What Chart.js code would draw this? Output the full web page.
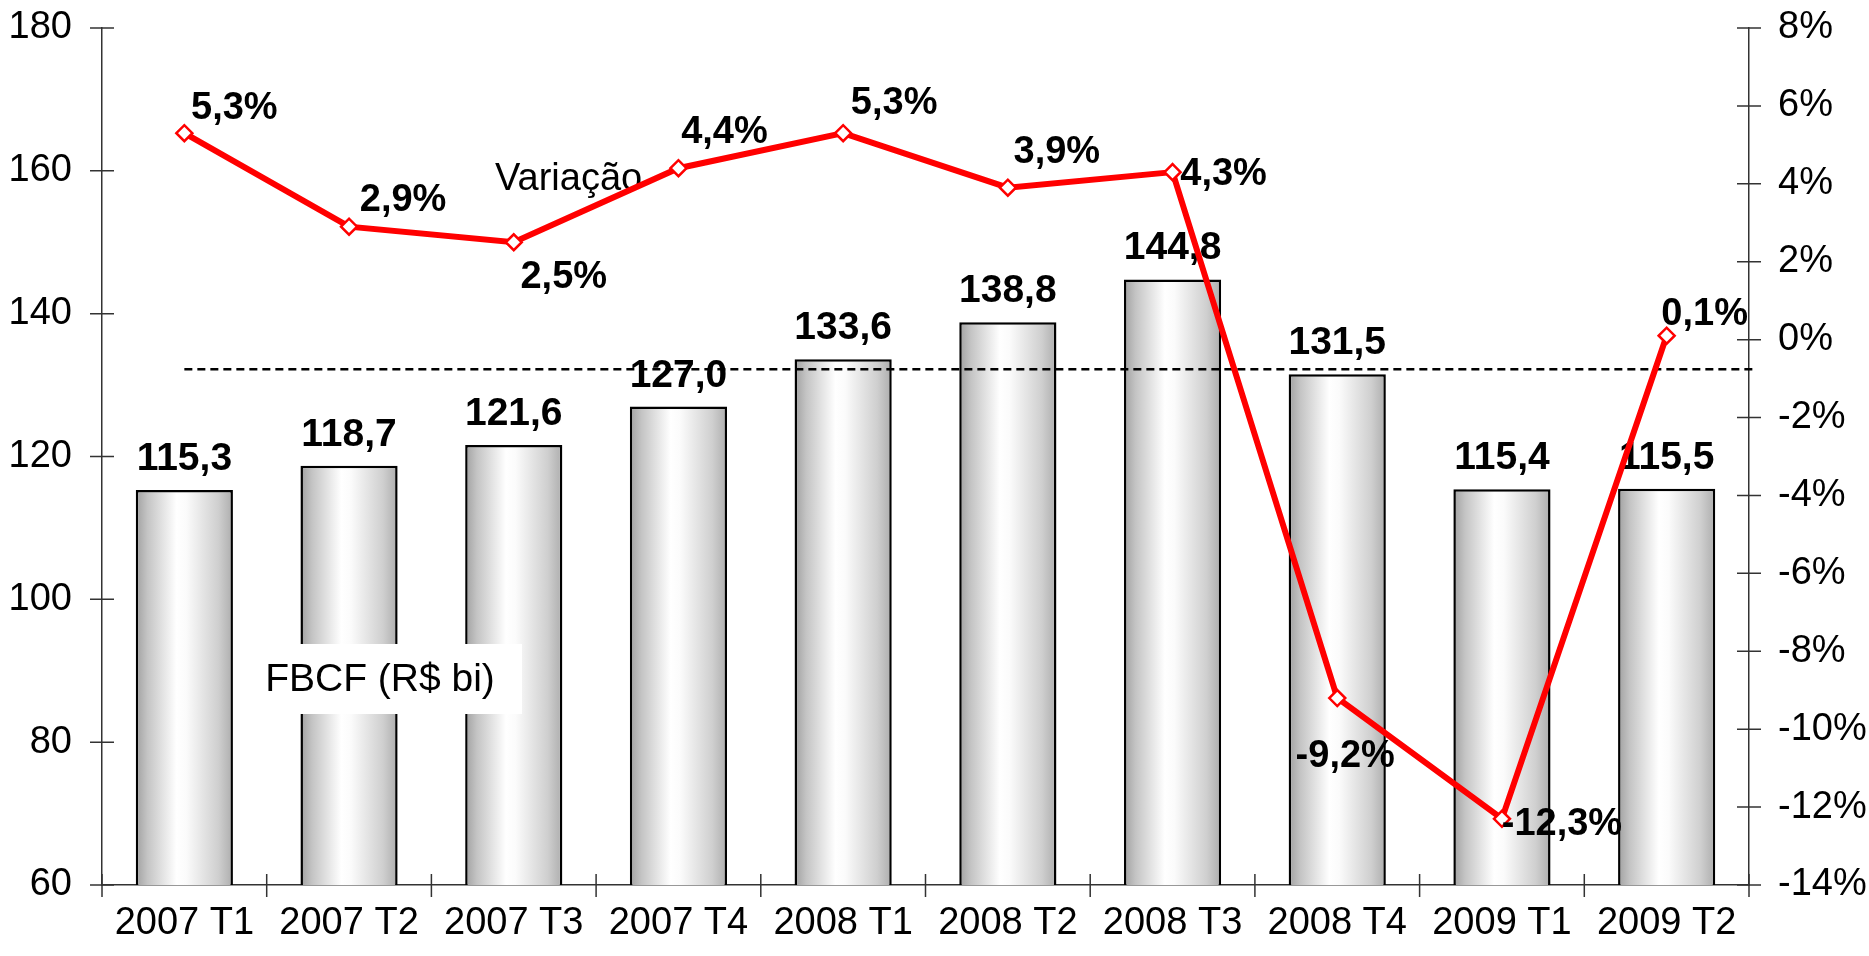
<!DOCTYPE html>
<html>
<head>
<meta charset="utf-8">
<script src="https://cdn.jsdelivr.net/npm/chart.js@4.4.1/dist/chart.umd.min.js"></script>
<style>
  html, body { margin: 0; padding: 0; background: #fff; }
  #wrap { width: 1869px; height: 956px; }
</style>
</head>
<body>
<div id="wrap"><canvas id="fbcfChart" width="1869" height="956"></canvas></div>
<script>
// Dados
const quarters = ['2007 T1', '2007 T2', '2007 T3', '2007 T4', '2008 T1', '2008 T2', '2008 T3', '2008 T4', '2009 T1', '2009 T2'];
const fbcf = [115.3, 118.7, 121.6, 127.0, 133.6, 138.8, 144.8, 131.5, 115.4, 115.5];
const variacao = [5.3, 2.9, 2.5, 4.4, 5.3, 3.9, 4.3, -9.2, -12.3, 0.1];
const linhaRef = 132.2; // linha tracejada (eixo esquerdo)
const leftTicks = { min: 60, max: 180, step: 20 };
const rightTicks = { min: -14, max: 8, step: 2 };

// Deslocamentos dos rótulos da variação (px)
const varLabelOffsets = [[50, -25], [54, -26], [50, 35], [46, -36], [51, -30], [49, -35], [51, 2], [8, 58], [60, 6], [38, -21]];

const BAR_PCT = 0.59;
const FONT = '"Liberation Sans", Arial, sans-serif';

function fmt(v, d) {
    return v.toFixed(d).replace('.', ',');
}

function barFill(context) {
    const chart = context.chart;
    const xs = chart.scales.x;
    if (!xs || !chart.chartArea || context.dataIndex === undefined) return '#cccccc';
    const cx = xs.getPixelForValue(context.dataIndex);
    const w = xs.width / quarters.length * BAR_PCT;
    const g = chart.ctx.createLinearGradient(cx - w / 2, 0, cx + w / 2, 0);
    g.addColorStop(0, '#a0a0a0');
    g.addColorStop(0.12, '#c4c4c4');
    g.addColorStop(0.42, '#ffffff');
    g.addColorStop(0.52, '#fbfbfb');
    g.addColorStop(0.85, '#cfcfcf');
    g.addColorStop(1, '#adadad');
    return g;
}

// Plugin: marcas, rótulos e anotações
const extras = {
    id: 'extras',
    beforeDatasetsDraw(chart) {
        const ctx = chart.ctx;
        ctx.save();
        ctx.font = '38px ' + FONT;
        ctx.fillStyle = '#000';
        ctx.textAlign = 'left';
        ctx.textBaseline = 'alphabetic';
        ctx.fillText('Variação', 495, 190);
        ctx.restore();
    },
    afterDatasetDraw(chart, args) {
        if (args.index !== 0) return;
        const ctx = chart.ctx;
        const xs = chart.scales.x;
        const ys = chart.scales.y;
        const area = chart.chartArea;
        ctx.save();
        // rótulos das barras
        ctx.font = 'bold 39px ' + FONT;
        ctx.fillStyle = '#000';
        ctx.textAlign = 'center';
        ctx.textBaseline = 'alphabetic';
        const meta = chart.getDatasetMeta(0);
        meta.data.forEach((bar, i) => {
            ctx.fillText(fmt(fbcf[i], 1), bar.x, bar.y - 20);
        });
        // linha tracejada
        const y = ys.getPixelForValue(linhaRef);
        ctx.strokeStyle = '#000';
        ctx.lineWidth = 2.5;
        ctx.setLineDash([8, 5]);
        ctx.beginPath();
        ctx.moveTo(xs.getPixelForValue(0), y);
        ctx.lineTo(area.right + 8, y);
        ctx.stroke();
        ctx.setLineDash([]);
        // caixa FBCF
        ctx.fillStyle = '#fff';
        ctx.fillRect(256, 644, 266, 70);
        ctx.fillStyle = '#000';
        ctx.font = '39px ' + FONT;
        ctx.textBaseline = 'middle';
        ctx.fillText('FBCF (R$ bi)', 380, 680);
        ctx.restore();
    },
    afterDatasetsDraw(chart) {
        const ctx = chart.ctx;
        const area = chart.chartArea;
        const xs = chart.scales.x;
        ctx.save();
        ctx.strokeStyle = '#333';
        ctx.lineWidth = 1.5;
        ctx.beginPath();
        ['y', 'y2'].forEach(id => {
            const s = chart.scales[id];
            const ax = id === 'y' ? area.left : area.right;
            s.ticks.forEach((t, i) => {
                const py = s.getPixelForTick(i);
                ctx.moveTo(ax - 12, py);
                ctx.lineTo(ax + 12, py);
            });
        });
        const cw = xs.width / quarters.length;
        for (let i = 0; i <= quarters.length; i++) {
            const px = area.left + cw * i;
            ctx.moveTo(px, area.bottom - 11);
            ctx.lineTo(px, area.bottom + 12);
        }
        ctx.stroke();
        // rótulos da variação
        ctx.font = 'bold 38px ' + FONT;
        ctx.fillStyle = '#000';
        ctx.textAlign = 'center';
        ctx.textBaseline = 'middle';
        const meta = chart.getDatasetMeta(1);
        meta.data.forEach((pt, i) => {
            const off = varLabelOffsets[i];
            ctx.fillText(fmt(variacao[i], 1) + '%', pt.x + off[0], pt.y + off[1]);
        });
        ctx.restore();
    }
};

function fitY(width) {
    return function (s) {
        s.width = width;
        s.paddingTop = 0;
        s.paddingBottom = 0;
    };
}

const chart = new Chart(document.getElementById('fbcfChart').getContext('2d'), {
    data: {
        labels: quarters,
        datasets: [{
            type: 'bar',
            label: 'FBCF (R$ bi)',
            data: fbcf,
            yAxisID: 'y',
            backgroundColor: barFill,
            borderColor: '#000',
            borderWidth: 2.5,
            borderSkipped: false,
            categoryPercentage: 1,
            barPercentage: BAR_PCT,
            order: 1
        }, {
            type: 'line',
            label: 'Variação',
            data: variacao,
            yAxisID: 'y2',
            borderColor: '#ff0000',
            borderWidth: 6,
            tension: 0,
            pointStyle: 'rectRot',
            pointRadius: 8,
            pointBackgroundColor: '#fff',
            pointBorderColor: '#ff0000',
            pointBorderWidth: 2.5,
            order: 0
        }]
    },
    options: {
        responsive: false,
        animation: false,
        devicePixelRatio: 1,
        layout: { padding: { top: 28, left: 0, right: 0, bottom: 0 } },
        plugins: {
            legend: { display: false },
            tooltip: { enabled: false }
        },
        scales: {
            x: {
                offset: true,
                grid: { display: false, drawTicks: false },
                border: { display: true, color: '#333', width: 1.5 },
                ticks: {
                    color: '#000',
                    font: { size: 38, family: FONT },
                    padding: 16,
                    maxRotation: 0,
                    autoSkip: false
                },
                afterFit(s) { s.height = 71; }
            },
            y: {
                position: 'left',
                min: leftTicks.min,
                max: leftTicks.max,
                grid: { display: false, drawTicks: false },
                border: { display: true, color: '#333', width: 1.5 },
                ticks: {
                    stepSize: leftTicks.step,
                    color: '#000',
                    font: { size: 38, family: FONT },
                    padding: 30
                },
                afterFit: fitY(102)
            },
            y2: {
                position: 'right',
                min: rightTicks.min,
                max: rightTicks.max,
                grid: { display: false, drawTicks: false },
                border: { display: true, color: '#333', width: 1.5 },
                ticks: {
                    stepSize: rightTicks.step,
                    color: '#000',
                    font: { size: 38, family: FONT },
                    padding: 29,
                    callback: v => Math.round(v) + '%'
                },
                afterFit: fitY(120)
            }
        }
    },
    plugins: [extras]
});
</script>
</body>
</html>
